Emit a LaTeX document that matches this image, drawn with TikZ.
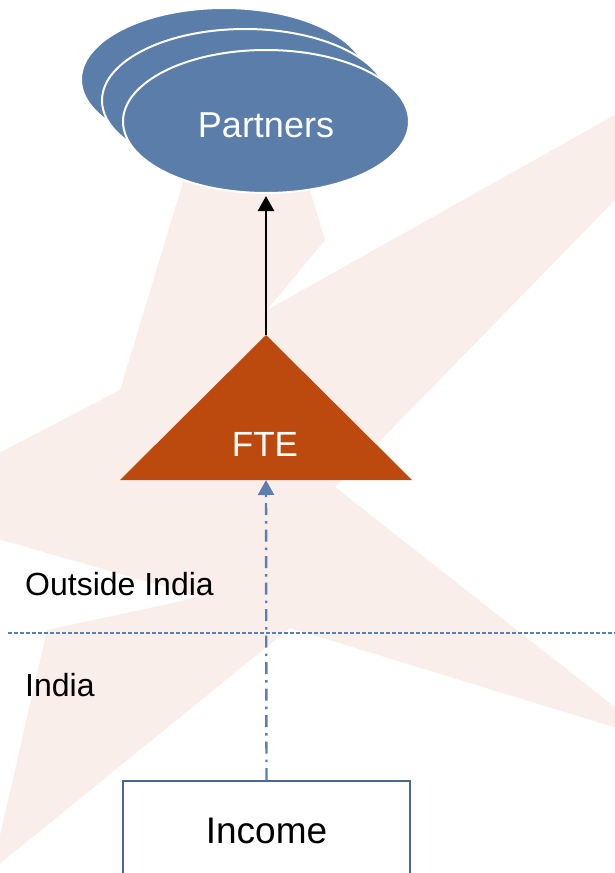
\documentclass[tikz,border=0pt]{standalone}
\usepackage{fontspec}
\setmainfont{Liberation Sans}
\usetikzlibrary{shapes.geometric, arrows.meta}
\definecolor{partblue}{HTML}{5A7DA9}
\definecolor{ftered}{HTML}{BC490D}
\definecolor{boxblue}{HTML}{4A6790}
\definecolor{linkblue}{HTML}{5B7FAE}
\definecolor{starpink}{HTML}{FAEEEA}

\begin{document}
\begin{tikzpicture}[x=1pt, y=-1pt,
        partner/.style={ellipse, fill=partblue, draw=white, line width=2pt, minimum width=286pt, minimum height=143pt, inner sep=0pt},
        regionlabel/.style={anchor=base west, inner sep=0pt, font=\fontsize{32}{38}\selectfont},
        incomebox/.style={anchor=north, draw=boxblue, line width=2pt, fill=white, minimum width=287pt, minimum height=120pt, text height=26.5pt, text depth=22.5pt, font=\fontsize{37}{44}\selectfont},
        uparrow/.style={-{Triangle[width=16pt,length=15pt]}, line width=2.5pt},
        dashdotarrow/.style={draw=linkblue, line width=2.4pt, dash pattern=on 12pt off 6pt on 2.5pt off 6pt, -{Triangle[width=16pt,length=15pt]}},
        borderline/.style={draw=linkblue, line width=1.2pt, dash pattern=on 4pt off 2pt}]
        \useasboundingbox (0,0) rectangle (615,873);

        \fill[starpink] (208,100) -- (283,100) -- (325,240) -- (267,310) -- (620,112) -- (620,195) -- (335,487) -- (620,711) -- (620,729) -- (290,628) -- (-8,870) -- (47,630) -- (200,597) -- (-5,538) -- (-5,455) -- (120,390) -- cycle;

        \node[partner] (partnersA) at (224,79.5) {};
        \node[partner] (partnersB) at (245,100.5) {};
        \node[partner, text=white, text height=33pt, font=\fontsize{36}{43}\selectfont] (partners) at (266,121.5) {Partners};

        \coordinate (fteTop) at (266,335);
        \coordinate (fteBase) at (266,480);
        \fill[ftered] (fteTop) -- (412,480) -- (120,480) -- cycle;
        \node[white, inner sep=0pt, font=\fontsize{35}{42}\selectfont] (fte) at (265,444.5) {FTE};

        \draw[uparrow, shorten >=2pt] (fteTop) -- (partners.south);

        \coordinate (lineL) at (8,633);
        \coordinate (lineR) at (615,633);
        \draw[borderline] (lineL) -- (lineR);

        \node[regionlabel] (outside) at (25,595) {Outside India};
        \node[regionlabel] (india) at (25,696) {India};

        \node[incomebox] (income) at (266.5,780) {Income};
        \draw[dashdotarrow] (income.north) -- (fteBase);
    \end{tikzpicture}
\end{document}
